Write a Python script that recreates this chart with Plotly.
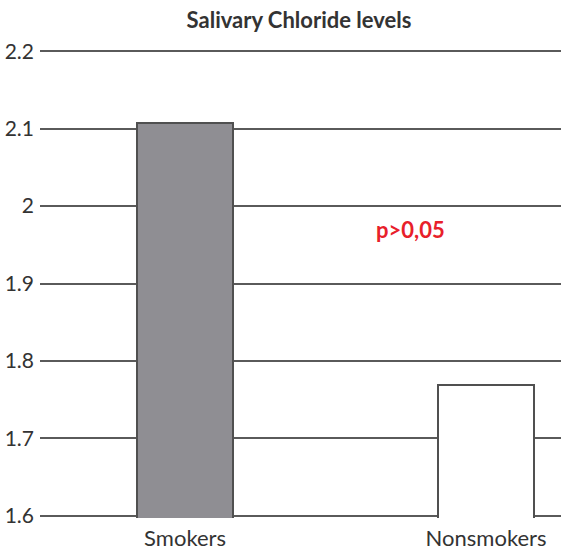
import plotly.graph_objects as go

categories = ["Smokers", "Nonsmokers"]
values = [2.108, 1.769]
bar_colors = ["#8f8e93", "#ffffff"]
y_ticks = [1.6, 1.7, 1.8, 1.9, 2.0, 2.1, 2.2]
y_tick_labels = ["1.6", "1.7", "1.8", "1.9", "2", "2.1", "2.2"]
title_text = "Salivary Chloride levels"
note_text = "p>0,05"

fig = go.Figure()
fig.add_trace(go.Bar(
    x=categories, y=values, width=0.32,
    marker=dict(color=bar_colors, line=dict(color="#505050", width=2)),
    showlegend=False,
))
fig.add_annotation(x=0.75, y=1.97, xref="x", yref="y", text="<b>%s</b>" % note_text,
                   showarrow=False, font=dict(family="Lato", size=22, color="#e8202a"))
fig.update_layout(
    width=561, height=555,
    margin=dict(l=40, r=0, t=49, b=37, autoexpand=False),
    paper_bgcolor="white", plot_bgcolor="white",
    title=dict(text="<b>%s</b>" % title_text, x=0.533, xanchor="center", y=0.964, yanchor="middle",
               font=dict(family="Lato", size=22, color="#333333")),
    font=dict(family="Lato", color="#333333"),
    bargap=0,
)
fig.update_xaxes(range=[-0.482, 1.249], showgrid=False, showline=False, ticks="",
                 automargin=False,
                 tickfont=dict(size=22, color="#333333"), ticklabelstandoff=5)
fig.update_yaxes(range=[1.597, 2.203], tickvals=y_ticks, ticktext=y_tick_labels,
                 automargin=False,
                 showgrid=True, gridcolor="#5a5a5a", gridwidth=1.6, zeroline=False,
                 showline=False, ticks="", ticklabelstandoff=5,
                 tickfont=dict(size=21, color="#333333"))
fig.write_html("out.html", config={"displayModeBar": False},
               post_script="document.body.style.margin='0';document.body.style.overflow='hidden';")
